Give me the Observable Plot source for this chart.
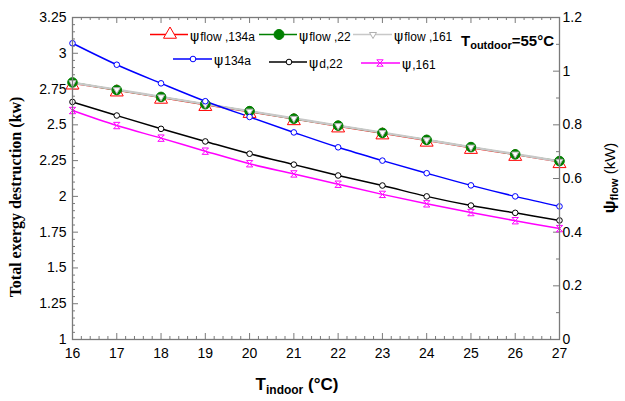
<!DOCTYPE html>
<html><head><meta charset="utf-8">
<script src="https://cdn.jsdelivr.net/npm/d3@7"></script>
<script src="https://cdn.jsdelivr.net/npm/@observablehq/plot@0.6"></script>
<style>body{margin:0;background:#fff} #chart svg{display:block}</style>
</head><body><div id="chart"></div>
<script>
// ---- data ----
const tIndoor = [16, 17, 18, 19, 20, 21, 22, 23, 24, 25, 26, 27];
// left axis (kW)
const psi134a = [3.07, 2.92, 2.79, 2.665, 2.555, 2.447, 2.343, 2.25, 2.162, 2.077, 2.0, 1.93];
const psiD22  = [2.66, 2.565, 2.472, 2.384, 2.298, 2.222, 2.146, 2.076, 2.0, 1.936, 1.885, 1.832];
const psi161  = [2.60, 2.495, 2.407, 2.316, 2.228, 2.157, 2.085, 2.014, 1.948, 1.887, 1.83, 1.775];
// right axis (kW)
const flow134a = [0.955, 0.929, 0.902, 0.875, 0.849, 0.822, 0.795, 0.769, 0.742, 0.715, 0.689, 0.662];
const flow22   = [0.958, 0.930, 0.904, 0.877, 0.851, 0.823, 0.797, 0.770, 0.744, 0.717, 0.690, 0.665];
const flow161  = [0.957, 0.931, 0.904, 0.877, 0.851, 0.824, 0.797, 0.771, 0.744, 0.717, 0.691, 0.664];
// tick labels
const leftTicks  = [1, 1.25, 1.5, 1.75, 2, 2.25, 2.5, 2.75, 3, 3.25];
const rightTicks = [0, 0.2, 0.4, 0.6, 0.8, 1, 1.2];
const xTicks     = [16, 17, 18, 19, 20, 21, 22, 23, 24, 25, 26, 27];

// right axis [0,1.2] maps onto left axis [1,3.25]
const toLeft = v => 1 + v * (2.25 / 1.2);

const W = 625, H = 401, mL = 72, mR = 66, mT = 17, mB = 62;
const pw = W - mL - mR, ph = H - mT - mB;

const rows = tIndoor.map((t, i) => ({
  t, b: psi134a[i], k: psiD22[i], m: psi161[i],
  r: toLeft(flow134a[i]), g: toLeft(flow22[i]), s: toLeft(flow161[i])
}));

const triDown = {draw(ctx, size) {
  const y = Math.sqrt(size / (3 * Math.sqrt(3)));
  ctx.moveTo(0, 2 * y); ctx.lineTo(-Math.sqrt(3) * y, -y); ctx.lineTo(Math.sqrt(3) * y, -y); ctx.closePath();
}};
const hourglass = {draw(ctx, size) {
  const s = Math.sqrt(size) / 2;
  ctx.moveTo(-s, -s); ctx.lineTo(s, -s); ctx.lineTo(-s, s); ctx.lineTo(s, s); ctx.closePath();
}};

const minorX = d3.range(16, 27.001, 0.2).filter(v => Math.abs(v - Math.round(v)) > 1e-6);
const minorL = d3.range(1, 3.2501, 0.05).filter(v => Math.abs(v * 4 - Math.round(v * 4)) > 1e-6);
const minorR = [0.1, 0.3, 0.5, 0.7, 0.9, 1.1];

const AX = "#7a7a7a";
const lineOpts = {x: "t", strokeWidth: 1.5, curve: "catmull-rom"};

const chart = Plot.plot({
  width: W, height: H, marginLeft: mL, marginRight: mR, marginTop: mT, marginBottom: mB,
  x: {domain: [16, 27], axis: null},
  y: {domain: [1, 3.25], axis: null},
  style: {fontFamily: "'Liberation Sans', Arial, sans-serif", fontSize: "14px", background: "white", overflow: "visible"},
  marks: [
    // ticks (inward)
    Plot.tickY(leftTicks, {y: d => d, insetRight: pw - 6, stroke: AX}),
    Plot.tickY(minorL, {y: d => d, insetRight: pw - 3, stroke: AX}),
    Plot.tickY(rightTicks, {y: d => toLeft(d), insetLeft: pw - 6, stroke: AX}),
    Plot.tickY(minorR, {y: d => toLeft(d), insetLeft: pw - 3, stroke: AX}),
    Plot.tickX(xTicks, {x: d => d, insetTop: ph - 6, stroke: AX}),
    Plot.tickX(minorX, {x: d => d, insetTop: ph - 3, stroke: AX}),
    Plot.tickX(xTicks, {x: d => d, insetBottom: ph - 6, stroke: AX}),
    Plot.tickX(minorX, {x: d => d, insetBottom: ph - 3, stroke: AX}),
    // lines
    Plot.line(rows, {...lineOpts, y: "r", stroke: "#ff0000"}),
    Plot.line(rows, {...lineOpts, y: "g", stroke: "#008000"}),
    Plot.line(rows, {...lineOpts, y: "s", stroke: "#c8c8c8", strokeWidth: 2.4}),
    Plot.line(rows, {...lineOpts, y: "b", stroke: "#0000ff"}),
    Plot.line(rows, {...lineOpts, y: "k", stroke: "#000000"}),
    Plot.line(rows, {...lineOpts, y: "m", stroke: "#ff00ff"}),
    // markers
    Plot.dot(rows, {x: "t", y: "r", symbol: "triangle", r: 4.8, dy: 2, fill: "white", stroke: "#ff0000", strokeWidth: 1}),
    Plot.dot(rows, {x: "t", y: "g", r: 4.8, fill: "#008000", stroke: "#008000", strokeWidth: 1}),
    Plot.dot(rows, {x: "t", y: "s", symbol: triDown, r: 2.6, fill: "white", stroke: "#b0b0b0", strokeWidth: 1}),
    Plot.dot(rows, {x: "t", y: "b", r: 2.8, fill: "white", stroke: "#0000ff", strokeWidth: 1}),
    Plot.dot(rows, {x: "t", y: "k", r: 2.8, fill: "white", stroke: "#000000", strokeWidth: 1}),
    Plot.dot(rows, {x: "t", y: "m", symbol: hourglass, r: 3.6, fill: "white", stroke: "#ff00ff", strokeWidth: 1}),
    Plot.frame({stroke: AX, strokeWidth: 1.3}),
    // tick labels
    Plot.text(leftTicks, {y: d => d, frameAnchor: "left", dx: -6, textAnchor: "end", text: d => String(d), fill: "#000", fontSize: 14}),
    Plot.text(rightTicks, {y: d => toLeft(d), frameAnchor: "right", dx: 3, textAnchor: "start", text: d => String(d), fill: "#000", fontSize: 14}),
    Plot.text(xTicks, {x: d => d, frameAnchor: "bottom", dy: 18, text: d => String(d), fill: "#000", fontSize: 14})
  ]
});

const svg = d3.select(chart);
// axis titles
svg.append("text")
  .attr("transform", "translate(21,197) rotate(-90)")
  .attr("text-anchor", "middle")
  .style("font-family", "'Liberation Serif', 'Times New Roman', serif")
  .style("font-weight", "bold").style("font-size", "16px")
  .text("Total exergy destruction (kw)");

const rl = svg.append("text")
  .attr("transform", "translate(615,178) rotate(-90)")
  .attr("text-anchor", "middle")
  .style("font-family", "'Liberation Sans', Arial, sans-serif").style("font-size", "15px");
rl.append("tspan").style("font-weight", "bold").style("font-size", "17px").text("ψ");
rl.append("tspan").style("font-weight", "bold").style("font-size", "11px").attr("dy", 3).text("flow");
rl.append("tspan").attr("dy", -3).text(" (kW)");

const xl = svg.append("text")
  .attr("x", 297).attr("y", 390).attr("text-anchor", "middle")
  .style("font-family", "'Liberation Sans', Arial, sans-serif").style("font-weight", "bold").style("font-size", "17px");
xl.append("tspan").text("T");
xl.append("tspan").style("font-size", "12px").attr("dy", 4).text("indoor");
xl.append("tspan").attr("dy", -4).text(" (°C)");

const tt = svg.append("text")
  .attr("x", 461).attr("y", 46).attr("text-anchor", "start")
  .style("font-family", "'Liberation Sans', Arial, sans-serif").style("font-weight", "bold").style("font-size", "15px");
tt.append("tspan").text("T");
tt.append("tspan").style("font-size", "11px").attr("dy", 3).text("outdoor");
tt.append("tspan").attr("dy", -3).text("=55°C");

// legend
const leg = [
  {x1: 150, x2: 188, y: 34.5, mx: 170, color: "#ff0000", sym: d3.symbolTriangle, size: 73, fill: "white", sub: "flow ,134a"},
  {x1: 259, x2: 297, y: 34.5, mx: 279, color: "#008000", sym: d3.symbolCircle, size: 78, fill: "#008000", sub: "flow ,22"},
  {x1: 353, x2: 392, y: 34.5, mx: 373, color: "#c8c8c8", sym: triDown, size: 21, fill: "white", sub: "flow ,161"},
  {x1: 173, x2: 212, y: 59, mx: 193, color: "#0000ff", sym: d3.symbolCircle, size: 25, fill: "white", sub: "134a"},
  {x1: 269, x2: 307, y: 62, mx: 289, color: "#000000", sym: d3.symbolCircle, size: 25, fill: "white", sub: "d,22"},
  {x1: 361, x2: 400, y: 63, mx: 380, color: "#ff00ff", sym: hourglass, size: 41, fill: "white", sub: ",161"}
];
const lg = svg.append("g").attr("text-anchor", "start");
leg.forEach(e => {
  lg.append("line").attr("x1", e.x1).attr("x2", e.x2).attr("y1", e.y).attr("y2", e.y)
    .attr("stroke", e.color).attr("stroke-width", 1.5);
  lg.append("path").attr("d", d3.symbol(e.sym, e.size)())
    .attr("transform", `translate(${e.mx},${e.y})`)
    .attr("fill", e.fill).attr("stroke", e.color === "#c8c8c8" ? "#b0b0b0" : e.color).attr("stroke-width", 1);
  const t = lg.append("text").attr("x", e.x2 + 2).attr("y", e.y + 6).attr("text-anchor", "start");
  t.append("tspan").style("font-family", "'DejaVu Sans', sans-serif").style("font-size", "14px").text("ψ");
  t.append("tspan").style("font-family", "'Liberation Sans', Arial, sans-serif").style("font-size", "12px").attr("dx", 1).text(e.sub);
});

document.getElementById("chart").appendChild(chart);
</script>
</body></html>
